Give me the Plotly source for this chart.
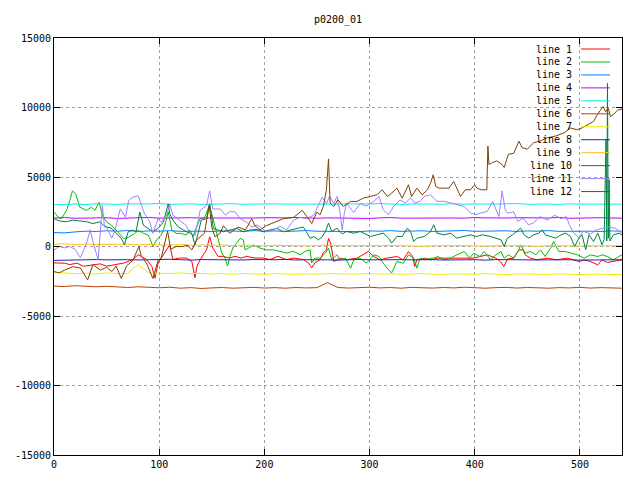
import numpy as np
import plotly.graph_objects as go

NAMES = ["line 1", "line 2", "line 3", "line 4", "line 5", "line 6",
         "line 7", "line 8", "line 9", "line 10", "line 11", "line 12"]
COLORS = ["#ff0000", "#00c000", "#0080ff", "#c000ff", "#00eeee", "#c04000",
          "#eeee00", "#2020c0", "#ffc020", "#008040", "#a080ff", "#804000"]

# ---- noisy series (x, y) ----
L1_X = [0, 5, 10, 15, 22, 28, 37, 44, 50, 59, 67, 75, 80, 83, 88, 93, 96, 99, 102, 107, 110, 113, 119, 126, 131, 134, 136, 139, 145, 148, 151, 156, 161, 167, 172, 178, 183, 191, 199, 205, 213, 221, 228, 237, 242, 245, 248, 253, 256, 259, 261, 263, 266, 272, 278, 288, 299, 304, 310, 316, 326, 332, 337, 341, 343, 345, 352, 358, 365, 371, 380, 390, 399, 405, 412, 420, 424.5, 427.7, 431, 437, 442, 446, 448, 453, 459, 469, 478, 488, 494, 499, 504, 510, 517, 521, 526, 532, 540]
L1_Y = [-1180, -1200, -1200, -1300, -1200, -1420, -1300, -1250, -1420, -1300, -1180, -940, -590, -710, -940, -1420, -2280, -1180, -830, -240, 120, -940, -830, -830, -1060, -2240, -1420, -940, -240, 700, -120, -710, -710, -830, -710, -830, -710, -830, -830, -940, -710, -940, -830, -940, -1180, -1530, -1180, -940, -470, -240, 590, 240, -1080, -840, -960, -840, -360, -720, -960, -840, -720, -960, -360, -720, -1440, -960, -840, -960, -840, -840, -840, -840, -840, -720, -600, -840, -1080, -1440, -900, -840, -240, -240, -600, -840, -960, -840, -960, -840, -960, -1080, -960, -1080, -1320, -960, -1150, -1080, -960]

L2_X = [0, 4, 7, 12, 15, 17.5, 20.7, 24.5, 31, 35.6, 38.8, 43, 46, 50, 54.6, 59, 66, 69, 74, 77, 80, 85, 89.5, 94.3, 97.5, 102, 105, 108.6, 112, 116.5, 121, 126, 129, 132.4, 135.6, 139, 143.5, 147.6, 150, 153, 156, 159.4, 162.6, 165, 167.3, 170.5, 173.7, 177, 180, 181.6, 185, 189.5, 196, 202, 208.6, 215, 221, 227.6, 234, 238.7, 243.5, 245, 248.3, 253, 258, 261, 264, 269, 272, 277, 282, 285, 291, 297, 304, 309, 313, 318, 321, 326, 332, 337, 342, 345, 348, 352, 358, 361, 365, 371, 377, 383, 390, 395, 399, 405, 409, 415, 420, 425, 428, 432, 437, 442, 443.5, 448, 453, 458, 462.6, 467, 472, 475, 480, 486, 491, 497.5, 504, 510, 517, 521, 526, 532, 537, 540]
L2_Y = [2480, 2120, 2000, 2600, 3300, 4000, 3770, 2830, 2600, 2830, 2600, 3180, 2240, 1770, 1530, 1180, 590, 590, 830, 940, 1180, 940, 830, 0, 470, 830, 1400, 2480, 1180, 940, 940, 830, 1180, 710, 1420, 2000, 2120, 2950, 2360, 1420, 590, -470, -830, -1400, -710, 0, 240, 590, 470, -240, -120, 120, -120, -240, -240, -350, -470, -350, -590, -350, -240, -1180, -830, -840, -480, -120, -960, -600, -960, -840, -1560, -960, -840, -1200, -600, -720, -1200, -1680, -1900, -1080, -1200, -600, -840, -1560, -840, -960, -840, -840, -720, -960, -840, -600, -360, -840, -480, -720, -360, -960, -600, -360, -840, -600, -840, -240, 120, -480, -360, -600, -240, -720, -120, 360, -360, -360, -480, -600, -840, -600, -720, -600, -720, -960, -720, -600]

L10_X = [0, 5, 12, 18, 24.5, 31, 37, 43.5, 47, 50, 55, 59, 64, 67, 70.5, 75, 78, 81.6, 85, 89.5, 94, 99, 104, 108.6, 110, 113, 118, 123, 126, 131, 134, 137, 140, 145, 148, 150, 151.5, 156, 161, 167, 174, 180, 186, 193, 199, 205, 212, 218, 224.5, 231, 237, 240, 243.5, 247, 251.5, 255, 258, 261, 264, 269, 274, 278, 285, 291, 301, 307, 313, 318, 321, 326, 331, 336, 339, 342, 345, 352, 358, 361, 364, 371, 377, 383, 390, 396, 402, 407, 415, 420, 425, 428, 431, 436, 440, 443.5, 447, 451.5, 456, 461, 464, 467, 472, 477, 482, 486.4, 491, 495, 499, 502, 505.5, 508.6, 513, 517, 521, 523, 524.8, 525.5, 526.2, 527, 527.8, 528.5, 532, 537, 540]
L10_Y = [2000, 1840, 1780, 1900, 1840, 1780, 1650, 1780, 1530, 1420, 1300, 940, 590, 120, 1060, 1180, 1060, 2480, 1530, 1300, 1060, 1300, 1770, 3070, 2360, 1900, 1420, 1180, 1060, 940, 120, 940, 1900, 2000, 3070, 2100, 1300, 1180, 1060, 1180, 1300, 1060, 1180, 1230, 1060, 1180, 1300, 1060, 1180, 1300, 1400, 1060, 590, 710, 480, 700, 1080, 1680, 1080, 1320, 900, 1080, 960, 1080, 720, 840, 960, 600, 240, 720, 720, 1320, 1080, 360, 600, 720, 1080, 1560, 960, 840, 960, 600, 720, 840, 720, 840, 720, 600, 480, 0, 600, 840, 1080, 1320, 840, 600, 840, 960, 1200, 840, 720, 600, 840, 960, 720, 0, 600, 840, -240, 840, 360, 960, 120, 500, 7700, 400, 11750, 600, 4800, 400, 840, 960, 840]

L11_X = [0, 5, 10, 15, 20, 25, 28, 31, 34.5, 37, 42, 46, 48, 50, 55, 58, 63, 68, 71, 75, 80, 83, 86, 91, 94, 99, 102, 107, 110, 113, 119, 126, 129, 134, 139, 145, 148, 151, 158, 163, 167, 172, 177, 183, 188, 193, 198, 202, 209, 215, 221, 228, 234, 240, 247, 255, 259, 262, 266, 269, 272, 274, 276, 278, 285, 291, 297, 304, 309, 313, 318, 323, 329, 334, 339, 343, 348, 352, 358, 364, 371, 377, 383, 390, 396, 401, 405, 412, 417, 420, 423, 426, 429, 431, 437, 441, 446, 451, 456, 462, 469, 476, 482, 487, 490, 494, 499, 503, 510, 516, 521, 527, 534, 540]
L11_Y = [-250, 0, -100, 0, -200, -800, -300, 250, 1200, 350, -950, 2950, 1400, 1400, 600, 1200, 2700, 2100, 3300, 3550, 3650, 3050, 2360, 1800, 950, 2000, 1750, 2250, 3050, 2250, 1900, 1500, 950, 800, 2600, 2950, 4000, 2700, 2700, 2250, 2500, 2500, 2000, 1750, 1400, 1550, 1300, 1050, 1200, 1450, 1200, 1900, 2100, 2000, 2250, 3550, 3100, 3600, 3100, 3600, 2400, 1180, 2400, 3100, 2450, 3100, 2900, 3250, 3600, 2640, 2280, 2900, 3350, 3120, 3500, 3120, 3250, 3600, 3720, 3250, 3250, 3120, 3000, 2880, 2400, 2280, 2400, 2520, 3240, 2640, 2160, 4000, 2640, 2400, 2500, 1800, 2050, 1560, 1700, 2160, 1900, 2250, 2000, 2150, 1560, 980, 620, 1100, 900, 1200, 1300, 1400, 1300, 960]

L12_X = [0, 5, 10, 18, 25, 32, 37, 44, 50, 55, 59, 64, 69, 75, 80.7, 83, 88, 94, 99, 102, 108, 111, 116, 122, 127, 131, 136, 143, 147.6, 150, 153, 158, 161, 167, 175, 182, 188, 191, 196, 202, 210, 218, 228, 236, 242, 245, 250, 253, 256, 259, 261, 262.5, 266, 270, 275, 282, 288, 294, 301, 307, 312, 317, 321, 326, 331, 337, 340, 345, 350, 355, 358, 360.5, 363, 366, 371, 375.5, 380, 383, 386.5, 391, 396, 400, 402, 406, 411.5, 412.5, 413.5, 416.7, 421, 426, 428, 432, 437, 442, 445, 450, 453, 456, 462, 469, 477, 485, 491, 497, 502, 507, 513, 516.5, 520, 522, 524.4, 527, 529, 532, 535.6, 540]
L12_Y = [-1800, -1900, -1700, -1450, -1550, -2400, -1300, -1700, -1500, -1800, -1400, -2300, -1400, -1000, 0, -700, -1200, -2300, -1000, -800, 1100, -200, 0, 0, 100, -250, 500, 950, 2950, 1400, 700, 950, 1500, 950, 1400, 1200, 2000, 1500, 1200, 1500, 1750, 2000, 2100, 2600, 2000, 1650, 2480, 2280, 2880, 4080, 6300, 3120, 2880, 3360, 2880, 3240, 3240, 3480, 3600, 3720, 4080, 3600, 3840, 4200, 3480, 4440, 3600, 4200, 3720, 4080, 4560, 5160, 4320, 4200, 4200, 4200, 4680, 4200, 3600, 4080, 4080, 4440, 4200, 4080, 4080, 7230, 5900, 6040, 6160, 5900, 5690, 6640, 6700, 7580, 7110, 7000, 7230, 7470, 7580, 7820, 7950, 8180, 8530, 8400, 8530, 8770, 9000, 9480, 9840, 10070, 9700, 9950, 9360, 9500, 9800, 9900]

# ---- near-constant series, evenly sampled from x=0 to x=540 ----
L3_Y = [1000, 980, 1050, 1100, 1080, 1130, 1100, 1150, 1080, 1120, 1100, 1140, 1090, 1120, 1100, 1080, 1130, 1110, 1090, 1140, 1100, 1120, 1080, 1110, 1150, 1100, 1090, 1130, 1100, 1070, 1120, 1100, 1140, 1090, 1110, 1130, 1080, 1100, 1120, 1150, 1090, 1110, 1100, 1130, 1080, 1120, 1100, 1140, 1090, 1110, 1130, 1100, 1080, 1120, 1100]
L4_Y = [2050, 2080, 2030, 2060, 2040, 2070, 2020, 2060, 2050, 2090, 2040, 2060, 2030, 2070, 2050, 2040, 2080, 2060, 2030, 2050, 2070, 2040, 2060, 2090, 2050, 2030, 2060, 2040, 2070, 2050, 2020, 2060, 2080, 2040, 2050, 2070, 2030, 2060, 2050, 2040, 2080, 2060, 2030, 2050, 2070, 2040, 2060, 2050, 2090, 2030, 2060, 2040, 2070, 2050, 2040]
L5_Y = [3000, 3040, 3060, 3020, 3080, 3050, 3030, 3070, 3040, 3060, 3090, 3040, 3050, 3070, 3030, 3060, 3050, 3080, 3040, 3060, 3030, 3070, 3050, 3040, 3080, 3060, 3030, 3050, 3070, 3040, 3060, 3090, 3050, 3030, 3060, 3040, 3070, 3050, 3080, 3040, 3060, 3030, 3050, 3070, 3090, 3040, 3060, 3050, 3030, 3070, 3050, 3060, 3040, 3070, 3050]
L6_Y = [-2850, -2880, -2820, -2870, -2900, -2860, -2920, -2950, -2900, -2940, -2970, -2930, -3000, -2960, -3020, -2980, -2950, -3000, -2970, -2940, -2990, -2960, -3000, -2950, -2980, -2960, -2600, -2950, -2990, -2960, -2930, -2980, -2950, -3000, -2940, -2970, -2990, -2950, -2980, -2930, -2970, -3000, -2960, -2940, -2990, -2950, -2970, -3000, -2960, -2980, -2940, -2990, -2960, -2980, -3000]
L7_Y = [-1850, -1900, -1950, -1920, -1980, -1900, -1950, -1930, -1300, -1900, -1920, -1950, -1900, -1960, -1930, -1980, -1950, -1990, -1940, -1970, -2000, -1950, -1980, -2000, -1960, -1990, -1950, -1970, -2000, -1980, -1940, -1990, -1960, -2000, -1970, -1950, -1990, -2010, -1960, -1980, -2000, -1950, -1990, -2020, -1970, -2000, -1980, -2010, -1960, -2000, -2030, -1990, -2010, -2040, -2020]
L8_Y = [-1000, -980, -950, -970, -940, -960, -930, -950, -970, -940, -960, -920, -950, -980, -940, -960, -930, -950, -970, -940, -960, -950, -930, -970, -950, -940, -960, -980, -950, -930, -960, -940, -970, -950, -960, -930, -950, -970, -940, -960, -950, -980, -940, -960, -930, -950, -970, -960, -940, -950, -980, -960, -940, -970, -950]
L9_Y = [150, 200, 120, 180, 140, 160, 130, 170, 110, 150, 120, 100, 140, 90, 110, 80, 120, 60, 100, 80, 50, 90, 60, 80, 40, 70, 100, 60, 50, 80, 30, 60, 70, 40, 60, 20, 50, 70, 40, 60, 30, 50, 70, 40, 60, 50, 20, 60, 40, 70, 30, 50, 60, 40, 50]

X_TICKS = [0, 100, 200, 300, 400, 500]
Y_TICKS = [-15000, -10000, -5000, 0, 5000, 10000, 15000]
TITLE = "p0200_01"


def even_x(ys):
    return np.linspace(0, 540, len(ys))


series = [
    (L1_X, L1_Y), (L2_X, L2_Y), (even_x(L3_Y), L3_Y), (even_x(L4_Y), L4_Y),
    (even_x(L5_Y), L5_Y), (even_x(L6_Y), L6_Y), (even_x(L7_Y), L7_Y),
    (even_x(L8_Y), L8_Y), (even_x(L9_Y), L9_Y), (L10_X, L10_Y),
    (L11_X, L11_Y), (L12_X, L12_Y),
]

FONT = "DejaVu Sans Mono"
fig = go.Figure()
for (xs, ys), name, col in zip(series, NAMES, COLORS):
    fig.add_trace(go.Scatter(x=list(xs), y=ys, mode="lines", name=name,
                             line=dict(color=col, width=1), showlegend=False))

# gnuplot-style key: right-aligned label, sample line to its right
annotations = []
shapes = []
y0, step = 0.9736, 0.03108
for i, (name, col) in enumerate(zip(NAMES, COLORS)):
    yy = y0 - i * step
    annotations.append(dict(x=0.916, y=yy, xref="paper", yref="paper",
                            text=name, showarrow=False, xanchor="right",
                            yanchor="middle", font=dict(family=FONT, size=10, color="#000")))
    shapes.append(dict(type="line", xref="paper", yref="paper",
                       x0=0.928, x1=0.979, y0=yy, y1=yy,
                       line=dict(color=col, width=1)))

axis_common = dict(showline=True, linecolor="black", linewidth=1, mirror="ticks",
                   ticks="inside", ticklen=6, tickcolor="black",
                   showgrid=True, gridcolor="#a0a0a0", griddash="dot", gridwidth=1,
                   zeroline=False, automargin=False,
                   tickfont=dict(family=FONT, size=10, color="#000"))

# the page body adds an 8px margin, so the figure is 632x472 inside a 640x480 window
fig.update_layout(
    width=632, height=472,
    margin=dict(l=46, r=18, t=30, b=25),
    paper_bgcolor="white", plot_bgcolor="white",
    title=dict(text=TITLE, x=0.5, xref="paper", xanchor="center", y=0.975, yanchor="middle",
               font=dict(family=FONT, size=10, color="#000")),
    xaxis=dict(range=[0, 540], tickvals=X_TICKS, ticktext=[str(v) for v in X_TICKS], **axis_common),
    yaxis=dict(range=[-15000, 15000], tickvals=Y_TICKS, ticktext=[str(v) for v in Y_TICKS], **axis_common),
    annotations=annotations, shapes=shapes,
)

fig.write_html("out.html")
